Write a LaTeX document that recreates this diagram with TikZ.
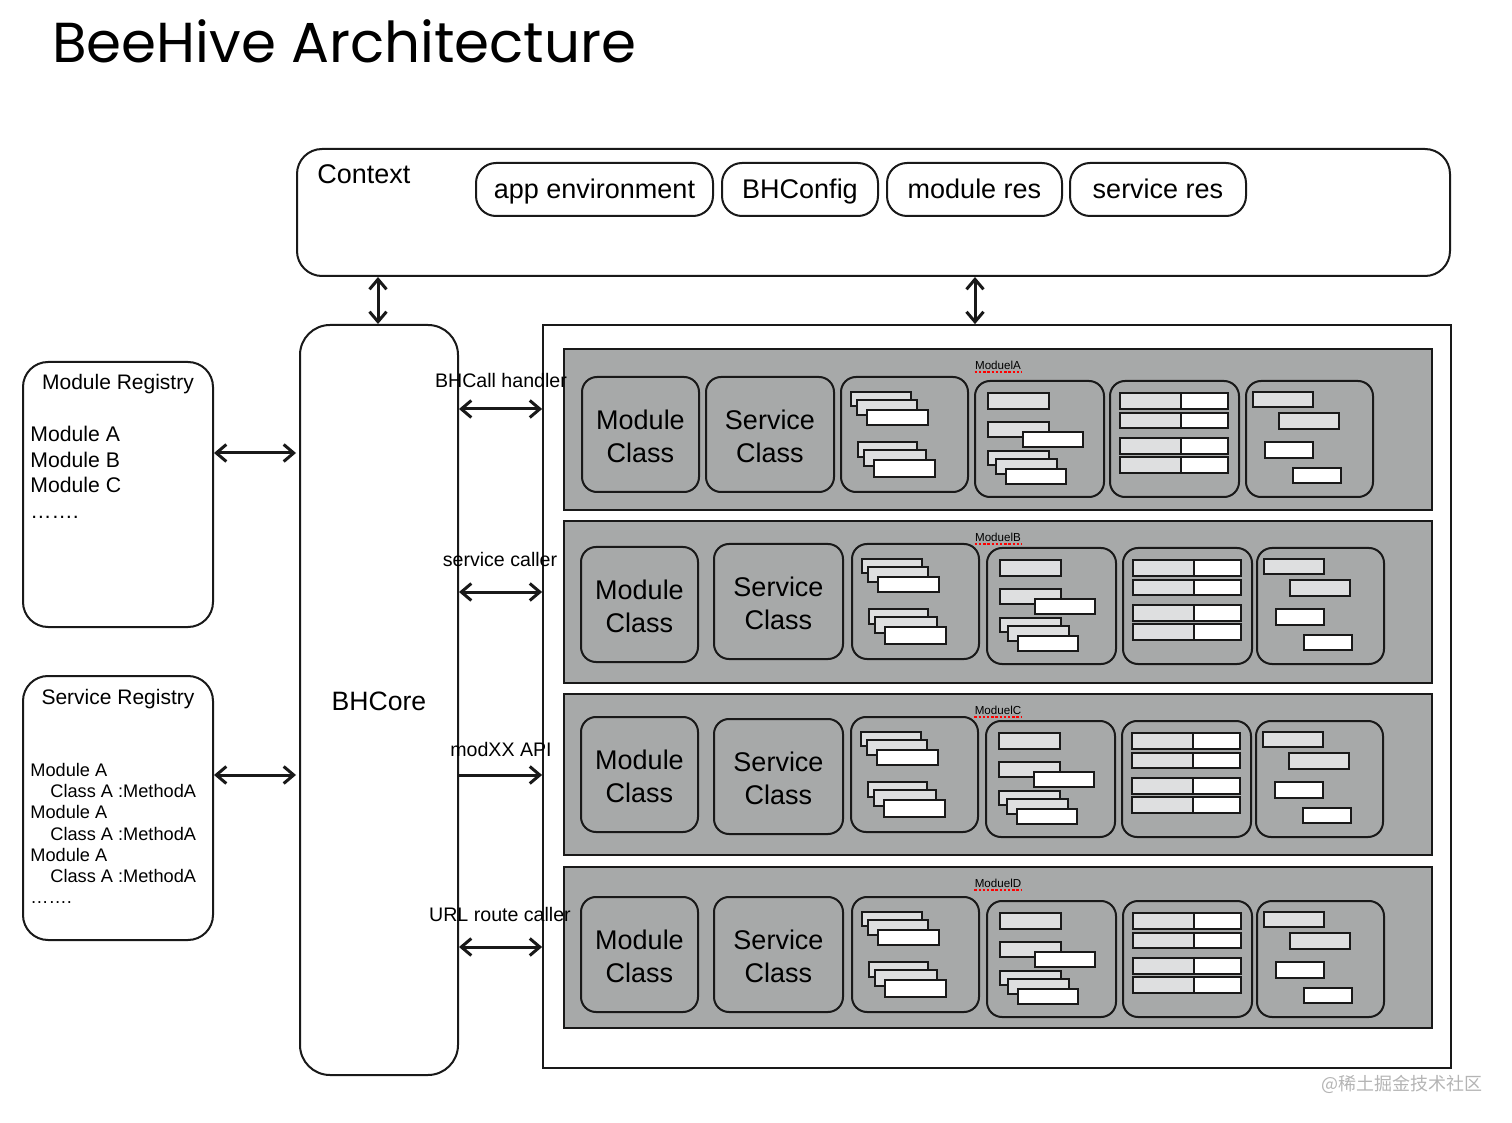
\documentclass[tikz,border=0pt]{standalone}
\usepackage{graphicx}
\usepackage{fontspec}
\setmainfont{Liberation Sans}
\newfontfamily\titlefont{Poppins}
\newfontfamily\cjkfont{Noto Sans CJK SC}
\usetikzlibrary{arrows.meta,fit}
\definecolor{rowgray}{RGB}{167,169,169}
\definecolor{lgray}{RGB}{222,223,224}
\definecolor{wm}{RGB}{180,180,180}
\definecolor{ink}{RGB}{25,25,25}
\tikzset{
 frame/.style={draw=ink, line width=1pt, rounded corners=12.5pt, inner sep=0pt},
 pill/.style={draw=ink, line width=1pt, rounded corners=10pt, inner sep=0pt},
 big/.style={inner sep=0pt, font=\fontsize{13.5}{16.5}\selectfont, align=center},
 rowbox/.style={draw=ink, fill=rowgray, line width=1.25pt, inner sep=0pt},
 inbox/.style={draw=ink, line width=1pt, rounded corners=7.5pt, inner sep=0pt},
 lr/.style={draw=ink, fill=lgray, line width=0.9pt},
 wr/.style={draw=ink, fill=white, line width=0.9pt},
 tipb/.tip={Straight Barb[length=5pt,width=8.5pt,line width=1.5pt]},
 dbl/.style={line width=1.5pt, draw=ink, tipb-tipb},
 sgl/.style={line width=1.5pt, draw=ink, -tipb},
 lbl/.style={font=\fontsize{9.8}{12}\selectfont, inner sep=0pt},
 modlab/.style={font=\fontsize{5.8}{7}\selectfont, inner sep=0pt},
}
\newcommand\boxC[3]{%
 \node[inbox, fit={(#2,#3)(#2+127,#3+115)}] (#1) {};
 \begin{scope}[shift={(#2,#3)}]
  \draw[lr] (10,15) rectangle (70,29);
  \draw[lr] (16,23) rectangle (76,38);
  \draw[wr] (26,33) rectangle (87,48);
  \draw[lr] (17,65) rectangle (76,80);
  \draw[lr] (23,73) rectangle (85,89);
  \draw[wr] (33,83) rectangle (94,100);
 \end{scope}}
\newcommand\boxD[3]{%
 \node[inbox, fit={(#2,#3)(#2+129,#3+116)}] (#1) {};
 \begin{scope}[shift={(#2,#3)}]
  \draw[lr] (13,12) rectangle (74,28);
  \draw[lr] (13,41) rectangle (74,56);
  \draw[wr] (48,51) rectangle (108,66);
  \draw[lr] (13,70) rectangle (74,84);
  \draw[lr] (21,78) rectangle (82,93);
  \draw[wr] (31,88) rectangle (91,103);
 \end{scope}}
\newcommand\boxE[3]{%
 \node[inbox, fit={(#2,#3)(#2+129,#3+116)}] (#1) {};
 \begin{scope}[shift={(#2,#3)}]
  \foreach \ya/\yb in {12/28,32/47,57/73,76/92}{
   \draw[lr] (10,\ya) rectangle (71,\yb);
   \draw[wr] (71,\ya) rectangle (118,\yb);}
 \end{scope}}
\newcommand\boxF[3]{%
 \node[inbox, fit={(#2,#3)(#2+127,#3+116)}] (#1) {};
 \begin{scope}[shift={(#2,#3)}]
  \draw[lr] (7,11) rectangle (67,26);
  \draw[lr] (33,32) rectangle (93,48);
  \draw[wr] (19,61) rectangle (67,77);
  \draw[wr] (47,87) rectangle (95,102);
 \end{scope}}
\newcommand\classbox[6]{% name, x1,y1,x2,y2, text
 \node[inbox, fit={(#2,#3)(#4,#5)}] (#1) {};
 \node[big] (#1t) at ([yshift=-1pt]#1.center) {#6};}
\newcommand\pillbox[4]{% name, x1, x2, text
 \node[pill, fit={(#2,163)(#3,216)}] (#1) {};
 \node[big, anchor=base] (#1t) at (#1.center |- 0,199) {#4};}
\newcommand\modrow[4]{%
 \node[rowbox, fit={(564,#3)(1432,#4)}] (#1) {};
 \node[modlab] (#1lab) at (998,#3+16) {#2};
 \draw[red, line width=0.8pt, dash pattern=on 1.2pt off 0.9pt] ([yshift=-1.2pt]#1lab.south west) -- ([yshift=-1.2pt]#1lab.south east);}
\begin{document}
\begin{tikzpicture}[x=0.5pt,y=-0.5pt]
\useasboundingbox (0,0) rectangle (1512,1123);
% title
\node[anchor=north west, inner sep=0pt] (title) at (52,19) {\resizebox{292pt}{!}{\titlefont BeeHive Architecture}};
% context
\node[frame, fit={(297,149)(1450,276)}] (ctx) {};
\node[anchor=base west, inner sep=0pt, font=\fontsize{13.5}{16}\selectfont] (ctxlab) at (317,184) {Context};
\pillbox{p1}{476}{713}{app environment}
\pillbox{p2}{722}{878}{BHConfig}
\pillbox{p3}{887}{1062}{module res}
\pillbox{p4}{1070}{1246}{service res}
% core
\node[frame, rounded corners=15pt, fit={(300,325)(458,1075)}] (core) {};
\node[big, font=\fontsize{13.3}{16}\selectfont] (coret) at (379,701) {BHCore};
% modules container
\node[draw=ink, line width=0.9pt, inner sep=0pt, fit={(543,325)(1451,1068)}] (mods) {};
% registries
\node[frame, fit={(23,362)(213,627)}] (mreg) {};
\node[font=\fontsize{10.5}{12}\selectfont, inner sep=0pt, anchor=base] (mregt) at (118,390) {Module Registry};
\node[anchor=north west, align=left, inner sep=0pt, font=\fontsize{10.6}{12.75}\selectfont] (mregl) at (30,426) {Module A\\Module B\\Module C\\…….};
\node[frame, fit={(23,676)(213,940)}] (sreg) {};
\node[font=\fontsize{10.5}{12}\selectfont, inner sep=0pt, anchor=base] (sregt) at (118,704) {Service Registry};
\node[anchor=north west, align=left, inner sep=0pt, font=\fontsize{9.1}{10.6}\selectfont] (sregl) at (30,763) {Module A\\\hspace*{10pt}Class A :MethodA\\Module A\\\hspace*{10pt}Class A :MethodA\\Module A\\\hspace*{10pt}Class A :MethodA\\…….};
% module rows
\modrow{rowA}{ModuelA}{349}{510}
\classbox{mcA}{582}{377}{699}{492}{Module\\Class}
\classbox{scA}{706}{377}{834}{492}{Service\\Class}
\boxC{stA}{841}{377}\boxD{ltA}{975}{381}\boxE{tbA}{1110}{381}\boxF{frA}{1246}{381}
\modrow{rowB}{ModuelB}{521}{683}
\classbox{mcB}{581}{547}{698}{662}{Module\\Class}
\classbox{scB}{714}{544}{843}{659}{Service\\Class}
\boxC{stB}{852}{544}\boxD{ltB}{987}{548}\boxE{tbB}{1123}{548}\boxF{frB}{1257}{548}
\modrow{rowC}{ModuelC}{694}{855}
\classbox{mcC}{581}{717}{698}{832}{Module\\Class}
\classbox{scC}{714}{719}{843}{834}{Service\\Class}
\boxC{stC}{851}{717}\boxD{ltC}{986}{721}\boxE{tbC}{1122}{721}\boxF{frC}{1256}{721}
\modrow{rowD}{ModuelD}{867}{1028}
\classbox{mcD}{581}{897}{698}{1012}{Module\\Class}
\classbox{scD}{714}{897}{843}{1012}{Service\\Class}
\boxC{stD}{852}{897}\boxD{ltD}{987}{901}\boxE{tbD}{1123}{901}\boxF{frD}{1257}{901}
% connectors
\coordinate (vx1) at (378,0);
\coordinate (vx2) at (975,0);
\draw[dbl] (ctx.south -| vx1) -- (core.north -| vx1);
\draw[dbl] (ctx.south -| vx2) -- (mods.north -| vx2);
\coordinate (ya) at (0,453);
\coordinate (yb) at (0,775);
\draw[dbl] (mreg.east |- ya) -- ([xshift=-1.5pt]core.west |- ya);
\draw[dbl] (sreg.east |- yb) -- ([xshift=-1.5pt]core.west |- yb);
\coordinate (r1) at (0,409);
\coordinate (r2) at (0,592);
\coordinate (r3) at (0,775);
\coordinate (r4) at (0,947);
\draw[dbl] (core.east |- r1) -- (mods.west |- r1);
\draw[dbl] (core.east |- r2) -- (mods.west |- r2);
\draw[sgl] (core.east |- r3) -- (mods.west |- r3);
\draw[dbl] (core.east |- r4) -- (mods.west |- r4);
\node[lbl] (l1) at (501,380) {BHCall handler};
\node[lbl] (l2) at (500,559) {service caller};
\node[lbl] (l3) at (501,749) {modXX API};
\node[lbl] (l4) at (500,914) {URL route caller};
% watermark
\node[text=wm, anchor=east, inner sep=0pt, font=\cjkfont\fontsize{9}{11}\selectfont] (wmk) at (1483,1084) {@稀土掘金技术社区};
\end{tikzpicture}
\end{document}
